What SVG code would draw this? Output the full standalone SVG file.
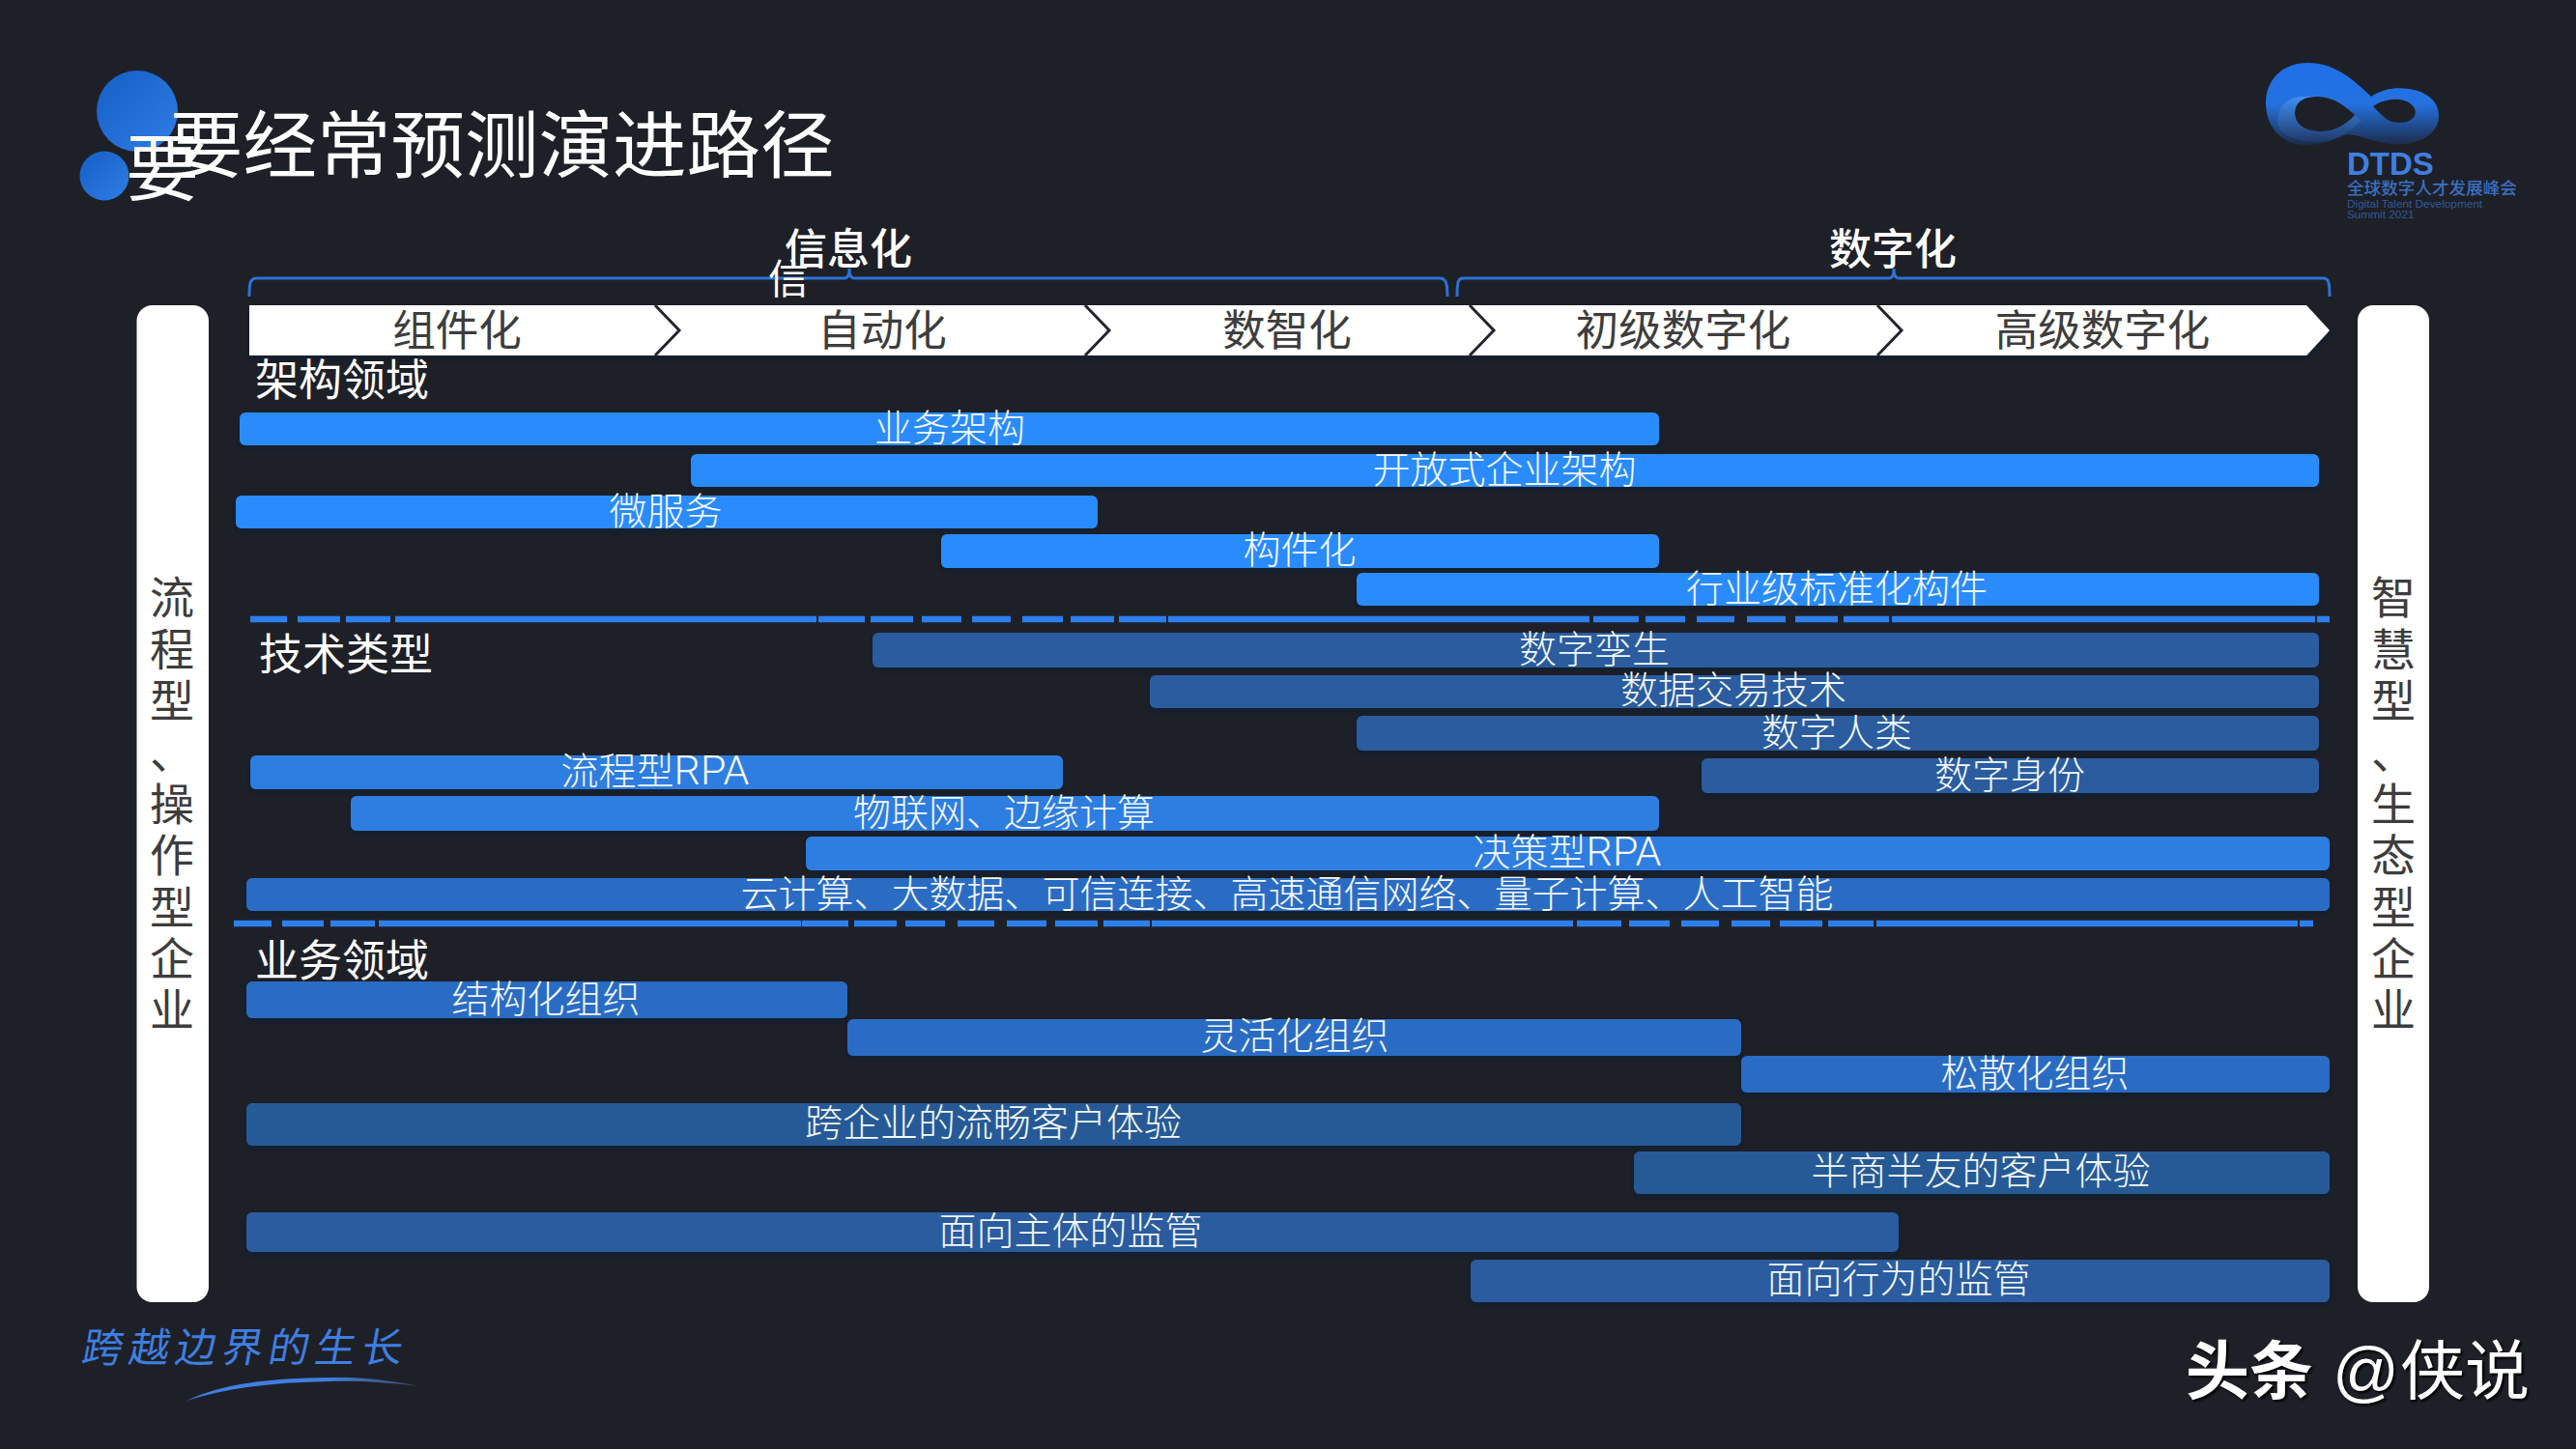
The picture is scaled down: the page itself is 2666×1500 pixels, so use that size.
<svg xmlns="http://www.w3.org/2000/svg" width="2666" height="1500" viewBox="0 0 2666 1500">
<style>
text{font-family:"Noto Sans CJK SC","Liberation Sans",sans-serif}
.lat{font-family:"Liberation Sans",sans-serif}
.rp{font-family:Roboto,"Liberation Sans",sans-serif;font-weight:300;font-size:43px}
.w{fill:#fff}
.bt{fill:#f4f8fd;font-size:39px;text-anchor:middle;font-weight:300}
.b0 rect{fill:#2a8bfd;filter:url(#sh)}
.b1 rect{fill:#2f7de0;filter:url(#sh)}
.b2 rect{fill:#2a6cc4;filter:url(#sh)}
.b3 rect{fill:#2b5c9f;filter:url(#sh)}
.st{fill:#3d3d3d;font-size:44.500px;text-anchor:middle}
.sec{fill:#fff;font-size:45px}
.v{fill:#3d3d3d;font-size:46px;text-anchor:middle}
.dash{fill:none;stroke:#2c7fec;stroke-width:6.500}
.br{fill:none;stroke:#2c72d8;stroke-width:3}
.chev{fill:none;stroke:#22252c;stroke-width:3}
</style>
<defs>
<filter id="sh" x="-2%" y="-20%" width="104%" height="150%"><feDropShadow dx="0" dy="3" stdDeviation="2" flood-color="#0d1a33" flood-opacity="0.9"/></filter>
<linearGradient id="c" x1="0" y1="0" x2="1" y2="1"><stop offset="0" stop-color="#155fc4"/><stop offset="1" stop-color="#2f7de6"/></linearGradient>
<linearGradient id="inf" x1="0" y1="0" x2="0" y2="1"><stop offset="0" stop-color="#1f6fe8"/><stop offset="0.5" stop-color="#2472e0"/><stop offset="1" stop-color="#1c2b4a"/></linearGradient>
<linearGradient id="band" x1="0" y1="0" x2="0" y2="1"><stop offset="0" stop-color="#3f90f5"/><stop offset="1" stop-color="#1f3a6a"/></linearGradient>
<linearGradient id="sw" x1="0" y1="0" x2="1" y2="0"><stop offset="0" stop-color="#3f7fe0"/><stop offset="0.6" stop-color="#3f7fe0"/><stop offset="1" stop-color="#3a4660"/></linearGradient>
</defs>
<rect width="2666" height="1500" fill="#1e2028"/>

<g id="title">
<ellipse cx="142" cy="115" rx="42" ry="42" fill="url(#c)"/>
<ellipse cx="108" cy="182" rx="25.500" ry="25.500" fill="url(#c)"/>
<text class="w" x="175" y="178" font-size="76.500">要经常预测演进路径</text>
<text class="w" x="130" y="202" font-size="76">要</text>
</g>

<g id="logo">
<path transform="translate(2320 50) scale(.3333)" fill="url(#inf)" fill-rule="evenodd" d="M75 170C75 95 130 45 205 45C290 45 350 100 402 150C440 125 480 120 520 126C580 135 615 170 612 215C608 270 545 300 480 298C410 295 370 268 325 268C280 288 240 302 190 300C120 295 75 240 75 170ZM165 200C165 165 195 148 240 150C290 153 320 180 352 207C320 240 290 258 245 258C200 258 165 240 165 200ZM408 180C440 160 470 156 495 160C528 165 545 190 538 208C526 232 495 234 465 228C445 220 425 198 408 180Z"/>
<path transform="translate(2320 50) scale(.3333)" fill="url(#band)" d="M112 240C105 190 135 152 190 150C215 149 235 149 240 150C195 148 165 165 165 200C165 235 195 256 245 258C290 258 320 240 352 207L372 225C335 262 285 290 240 290C170 290 125 270 112 240Z"/>
<text class="lat" x="2429" y="181" font-size="33" font-weight="700" fill="#3f7fe0">DTDS</text>
<text x="2429" y="201" font-size="17.600" font-weight="500" fill="#3a6fc0">全球数字人才发展峰会</text>
<text class="lat" x="2429" y="215" font-size="11.800" fill="#2f5a9a">Digital Talent Development</text>
<text class="lat" x="2429" y="226" font-size="11.800" fill="#2f5a9a">Summit 2021</text>
</g>

<g id="connectors">
<path class="br" d="M258 307C258 292 259 288 266 288H874C877 288 879 285 879 278C879 285 881 288 884 288H1490C1496 288 1498 292 1498 307"/>
<path class="br" d="M1508 307C1508 292 1509 288 1514 288H1955C1958 288 1960 285 1960 278C1960 285 1962 288 1965 288H2404C2410 288 2411 292 2411 307"/>
<path class="dash" d="M259 641H297M308 641H352M358 641H404M409 641H845M847 641H895M901 641H945M954 641H995M1006 641H1046M1058 641H1100M1108 641H1153M1158 641H1207M1209 641H1645M1649 641H1696M1703 641H1744M1756 641H1795M1808 641H1848M1858 641H1902M1908 641H1955M1958 641H2396M2398 641H2411"/>
<path class="dash" d="M242 956H281M292 956H335M342 956H388M392 956H829M830 956H878M884 956H928M937 956H978M991 956H1029M1042 956H1083M1092 956H1136M1142 956H1190M1192 956H1628M1632 956H1678M1686 956H1728M1740 956H1779M1792 956H1832M1842 956H1886M1892 956H1939M1942 956H2378M2380 956H2394"/>
</g>

<g id="phase-info"><text class="w" x="878" y="274" font-size="44" text-anchor="middle" font-weight="500">信息化</text><text class="w" x="816" y="304" font-size="42" text-anchor="middle">信</text></g>
<g id="phase-digital"><text class="w" x="1959" y="274" font-size="44" text-anchor="middle" font-weight="500">数字化</text></g>

<g id="stages">
<polygon points="258,316 2387,316 2411,342 2387,368 258,368" fill="#fff" filter="url(#sh)"/>
<path class="chev" d="M678 316L703 342L678 368M1123 316L1148 342L1123 368M1521 316L1546 342L1521 368M1943 316L1968 342L1943 368"/>
<text class="st" x="473" y="358">组件化</text>
<text class="st" x="913" y="358">自动化</text>
<text class="st" x="1332" y="358">数智化</text>
<text class="st" x="1742" y="358">初级数字化</text>
<text class="st" x="2176" y="358">高级数字化</text>
</g>

<g id="side-left">
<rect x="141.500" y="316" width="74.500" height="1032" rx="16" fill="#fff"/>
<text class="v" x="178" y="635">流</text><text class="v" x="178" y="689">程</text><text class="v" x="178" y="742">型</text><text class="v" x="178" y="796">、</text><text class="v" x="178" y="849">操</text><text class="v" x="178" y="902">作</text><text class="v" x="178" y="956">型</text><text class="v" x="178" y="1009">企</text><text class="v" x="178" y="1062">业</text>
</g>
<g id="side-right">
<rect x="2440" y="316" width="74" height="1032" rx="16" fill="#fff"/>
<text class="v" x="2477" y="635">智</text><text class="v" x="2477" y="689">慧</text><text class="v" x="2477" y="742">型</text><text class="v" x="2477" y="796">、</text><text class="v" x="2477" y="849">生</text><text class="v" x="2477" y="902">态</text><text class="v" x="2477" y="956">型</text><text class="v" x="2477" y="1009">企</text><text class="v" x="2477" y="1062">业</text>
</g>

<g id="section-labels">
<text class="sec" x="264" y="410">架构领域</text>
<text class="sec" x="268" y="694">技术类型</text>
<text class="sec" x="264" y="1011">业务领域</text>
</g>

<g id="bar-1" class="b0"><rect x="248" y="427" width="1469" height="34" rx="6"/><text class="bt" x="983" y="457">业务架构</text></g>
<g id="bar-2" class="b0"><rect x="715" y="470" width="1685" height="34" rx="6"/><text class="bt" x="1557" y="500">开放式企业架构</text></g>
<g id="bar-3" class="b0"><rect x="244" y="513" width="892" height="34" rx="6"/><text class="bt" x="689" y="543">微服务</text></g>
<g id="bar-4" class="b0"><rect x="974" y="553" width="743" height="35" rx="6"/><text class="bt" x="1345" y="583">构件化</text></g>
<g id="bar-5" class="b0"><rect x="1404" y="593" width="996" height="34" rx="6"/><text class="bt" x="1901" y="623">行业级标准化构件</text></g>
<g id="bar-6" class="b3"><rect x="903" y="655" width="1497" height="36" rx="6"/><text class="bt" x="1650" y="686">数字孪生</text></g>
<g id="bar-7" class="b3"><rect x="1190" y="699" width="1210" height="34" rx="6"/><text class="bt" x="1794" y="728">数据交易技术</text></g>
<g id="bar-8" class="b3"><rect x="1404" y="741" width="996" height="36" rx="6"/><text class="bt" x="1901" y="772">数字人类</text></g>
<g id="bar-9" class="b3"><rect x="1761" y="785" width="639" height="36" rx="6"/><text class="bt" x="2080" y="816">数字身份</text></g>
<g id="bar-10" class="b1"><rect x="259" y="782" width="841" height="35" rx="6"/><text class="bt" x="678" y="812">流程型<tspan class="rp">RPA</tspan></text></g>
<g id="bar-11" class="b1"><rect x="363" y="824" width="1354" height="36" rx="6"/><text class="bt" x="1039" y="855">物联网、边缘计算</text></g>
<g id="bar-12" class="b1"><rect x="834" y="866" width="1577" height="35" rx="6"/><text class="bt" x="1622" y="896">决策型<tspan class="rp">RPA</tspan></text></g>
<g id="bar-13" class="b2"><rect x="255" y="909" width="2156" height="34" rx="6"/><text class="bt" x="1332" y="939">云计算、大数据、可信连接、高速通信网络、量子计算、人工智能</text></g>
<g id="bar-14" class="b2"><rect x="255" y="1016" width="622" height="38" rx="6"/><text class="bt" x="565" y="1048">结构化组织</text></g>
<g id="bar-15" class="b2"><rect x="877" y="1055" width="925" height="38" rx="6"/><text class="bt" x="1340" y="1086">灵活化组织</text></g>
<g id="bar-16" class="b2"><rect x="1802" y="1093" width="609" height="38" rx="6"/><text class="bt" x="2106" y="1125">松散化组织</text></g>
<g id="bar-17" class="b3"><rect x="255" y="1142" width="1547" height="44" rx="6" style="fill:#275a96"/><text class="bt" x="1028" y="1176">跨企业的流畅客户体验</text></g>
<g id="bar-18" class="b3"><rect x="1691" y="1192" width="720" height="44" rx="6" style="fill:#275a96"/><text class="bt" x="2050" y="1226">半商半友的客户体验</text></g>
<g id="bar-19" class="b3"><rect x="255" y="1255" width="1710" height="41" rx="6"/><text class="bt" x="1108" y="1288">面向主体的监管</text></g>
<g id="bar-20" class="b3"><rect x="1522" y="1304" width="889" height="44" rx="6"/><text class="bt" x="1965" y="1338">面向行为的监管</text></g>

<g id="slogan">
<text x="82" y="1410" transform="translate(250 0) skewX(-10)" font-size="42" fill="#3f7fe0" textLength="331" lengthAdjust="spacing">跨越边界的生长</text>
<path d="M193 1450C240 1428 300 1426 360 1426C390 1427 415 1431 434 1435C400 1431 370 1429 340 1430C290 1431 240 1435 193 1450Z" fill="url(#sw)"/>
</g>

<g id="watermark" style="filter:drop-shadow(2px 2px 1px #000)">
<text class="w" x="2262" y="1443" font-size="66" font-weight="700">头条</text>
<text class="w lat" x="2414" y="1443" font-size="68">@</text>
<text class="w" x="2484" y="1443" font-size="67">侠说</text>
</g>
</svg>
